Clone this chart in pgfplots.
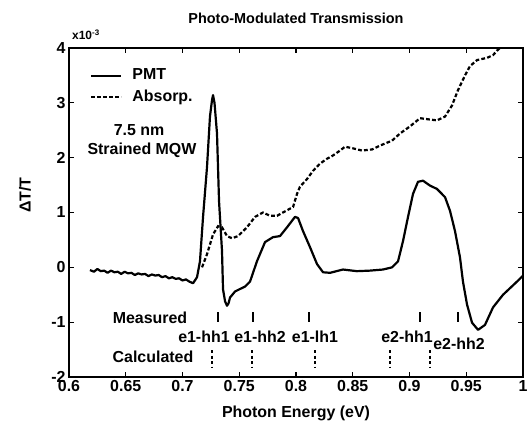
\documentclass[border=0pt]{standalone}
\usepackage{fontspec}
\setmainfont{Liberation Sans}
\usepackage{pgfplots}
\pgfplotsset{compat=1.18}
\newcommand\F[1]{\fontsize{#1}{#1}\selectfont\bfseries}
\begin{document}
\begin{tikzpicture}
\begin{axis}[
  scale only axis, width=454bp, height=329bp,
  clip mode=individual,
  xmin=0.6, xmax=1.0, ymin=-2, ymax=4,
  xtick={0.6,0.65,0.7,0.75,0.8,0.85,0.9,0.95,1},
  xticklabels={0.6,0.65,0.7,0.75,0.8,0.85,0.9,0.95,1},
  ytick={-2,-1,0,1,2,3,4},
  yticklabels={-2,-1,0,1,2,3,4},
  tick align=inside, major tick length=5bp,
  tick style={line width=1.2bp, black},
  axis line style={line width=1.6bp},
  tick label style={font=\F{16}},
  label style={font=\F{16}},
  title={Photo-Modulated Transmission},
  title style={font=\F{14.5}, at={(axis description cs:0.5,1)}, anchor=center, yshift=24bp},
  xlabel={Photon Energy (eV)},
  xlabel style={at={(axis description cs:0.5,0)}, anchor=center, yshift=-36bp},
  ylabel={ΔT/T},
  ylabel style={at={(axis description cs:-0.097,0.553)}, anchor=center},
  legend cell align=left,
  legend image code/.code={\draw[#1] (0bp,0bp) -- (30bp,0bp);},
  legend style={at={(axis cs:0.6159,3.298)}, anchor=west, draw=none, fill=none,
    font=\F{16}, row sep=5bp, column sep=9bp,
    nodes={inner sep=1bp, text height=11.5bp, text depth=3bp}},
]
% PMT
\addplot[black, line width=2.2bp, line join=round] coordinates {
(0.6185,-0.05) (0.622,-0.08) (0.625,-0.03) (0.628,-0.07) (0.631,-0.06) (0.634,-0.10)
(0.637,-0.06) (0.640,-0.09) (0.643,-0.08) (0.646,-0.12) (0.649,-0.08) (0.652,-0.11)
(0.655,-0.10) (0.658,-0.14) (0.661,-0.11) (0.664,-0.13) (0.667,-0.12) (0.670,-0.16)
(0.673,-0.13) (0.676,-0.15) (0.679,-0.14) (0.682,-0.18) (0.685,-0.16) (0.688,-0.20)
(0.691,-0.18) (0.694,-0.21) (0.697,-0.20) (0.700,-0.24) (0.703,-0.22) (0.706,-0.26)
(0.7093,-0.29) (0.7128,-0.18) (0.7154,0.11) (0.7181,0.92) (0.7216,1.83) (0.7242,2.75)
(0.7260,3.05) (0.7269,3.14) (0.7282,3.0) (0.7304,2.44) (0.7322,1.2) (0.7348,0.3)
(0.7357,-0.40) (0.7375,-0.62) (0.7392,-0.70) (0.7405,-0.66) (0.7419,-0.55) (0.7463,-0.44)
(0.7551,-0.35) (0.7595,-0.26) (0.7656,0.11) (0.7727,0.46) (0.7797,0.55) (0.7859,0.57)
(0.7921,0.73) (0.7991,0.92) (0.8018,0.90) (0.8062,0.66) (0.8123,0.37) (0.8185,0.06)
(0.8238,-0.09) (0.8300,-0.10) (0.8414,-0.04) (0.8537,-0.07) (0.8652,-0.06) (0.8767,-0.04)
(0.8846,0) (0.8899,0.11) (0.8943,0.48) (0.8987,0.92) (0.9031,1.34) (0.9075,1.56)
(0.9119,1.58) (0.9181,1.49) (0.9242,1.43) (0.9313,1.28) (0.9357,1.03) (0.9401,0.66)
(0.9445,0.18) (0.9471,-0.26) (0.9507,-0.68) (0.9551,-1.01) (0.9604,-1.14) (0.9665,-1.05)
(0.9736,-0.73) (0.9824,-0.5) (0.9947,-0.26) (1.0,-0.15)
};
\addlegendentry{PMT}
% Absorption
\addplot[black, line width=2.2bp, dash pattern=on 3.8bp off 2.2bp] coordinates {
(0.7172,0) (0.7216,0.24) (0.7269,0.6) (0.7313,0.75) (0.7348,0.73) (0.7392,0.57)
(0.7436,0.53) (0.7489,0.57) (0.7568,0.73) (0.7639,0.92) (0.7709,1.0) (0.7771,0.94)
(0.7833,0.94) (0.7885,1.0) (0.7974,1.1) (0.8009,1.34) (0.8035,1.47) (0.8097,1.61)
(0.8150,1.76) (0.8211,1.89) (0.8273,1.98) (0.8326,2.04) (0.8388,2.13) (0.8432,2.2)
(0.8502,2.17) (0.8581,2.13) (0.8670,2.15) (0.8740,2.22) (0.8846,2.31) (0.8916,2.44)
(0.9004,2.57) (0.9093,2.72) (0.9163,2.70) (0.9242,2.68) (0.9313,2.75) (0.9374,2.95)
(0.9427,3.23) (0.9489,3.5) (0.9533,3.67) (0.9595,3.78) (0.9683,3.82) (0.9736,3.87)
(0.9771,3.95) (0.9797,4.0)
};
\addlegendentry{Absorp.}
% Measured marks
\addplot[black, line width=1.5bp, unbounded coords=jump, forget plot] coordinates {
(0.7313,-0.815) (0.7313,-0.997) (0.74,nan)
(0.7621,-0.815) (0.7621,-0.997) (0.77,nan)
(0.8115,-0.815) (0.8115,-0.997) (0.82,nan)
(0.9093,-0.815) (0.9093,-0.997) (0.92,nan)
(0.9427,-0.815) (0.9427,-0.997)
};
% Calculated marks
\addplot[black, line width=1.5bp, dash pattern=on 3bp off 2.5bp, unbounded coords=jump, forget plot] coordinates {
(0.7260,-1.508) (0.7260,-1.818) (0.73,nan)
(0.7612,-1.508) (0.7612,-1.818) (0.77,nan)
(0.8167,-1.508) (0.8167,-1.818) (0.82,nan)
(0.8828,-1.508) (0.8828,-1.818) (0.89,nan)
(0.9181,-1.508) (0.9181,-1.818)
};
\begin{scope}[every node/.style={font=\F{16}, inner sep=0pt}]
\node at (axis cs:0.6617,2.505) {7.5 nm};
\node at (axis cs:0.6643,2.14) {Strained MQW};
\node at (axis cs:0.6714,-0.924) {Measured};
\node at (axis cs:0.674,-1.635) {Calculated};
\node at (axis cs:0.7189,-1.27) {e1-hh1};
\node at (axis cs:0.7683,-1.27) {e1-hh2};
\node at (axis cs:0.8167,-1.27) {e1-lh1};
\node at (axis cs:0.8978,-1.27) {e2-hh1};
\node at (axis cs:0.9436,-1.398) {e2-hh2};
\end{scope}
\node[anchor=base west, font=\F{12}, inner sep=0pt, xshift=3bp, yshift=8bp] at (rel axis cs:0,1) {x10\textsuperscript{-3}};
\end{axis}
\pgfresetboundingbox
\useasboundingbox (-69bp,-44bp) rectangle (460bp,377bp);
\end{tikzpicture}
\end{document}
